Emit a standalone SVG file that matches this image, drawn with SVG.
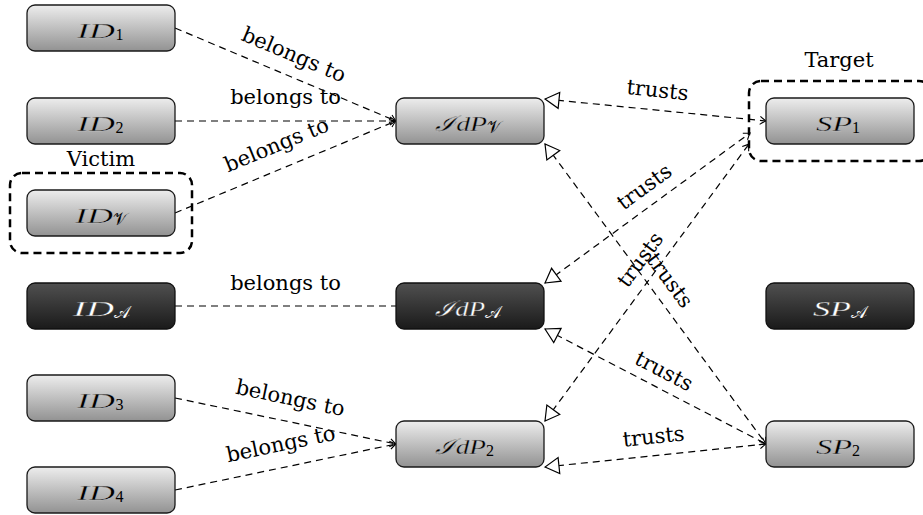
<svg xmlns="http://www.w3.org/2000/svg" width="923" height="515" viewBox="0 0 923 515">
<defs>
<linearGradient id="gl" x1="0" y1="0" x2="0" y2="1">
<stop offset="0" stop-color="#ededed"/><stop offset="1" stop-color="#929292"/>
</linearGradient>
<linearGradient id="gd" x1="0" y1="0" x2="0" y2="1">
<stop offset="0" stop-color="#505050"/><stop offset="1" stop-color="#1a1a1a"/>
</linearGradient>
<marker id="to" markerUnits="userSpaceOnUse" orient="auto" overflow="visible" markerWidth="1" markerHeight="1" refX="0" refY="0">
<path d="M-6,-4 Q-2,-1 0,0 Q-2,1 -6,4" fill="none" stroke="#000" stroke-width="1.1" stroke-dasharray="none"/>
</marker>
<marker id="tri" markerUnits="userSpaceOnUse" orient="auto-start-reverse" overflow="visible" markerWidth="1" markerHeight="1" refX="0" refY="0">
<path d="M0,0 L-14,-8 L-14,8 Z" fill="#fff" stroke="#000" stroke-width="1.2" stroke-dasharray="none"/>
</marker>
</defs>
<style>
.nl{fill:url(#gl);stroke:#1a1a1a;stroke-width:1.3}
.nd{fill:url(#gd);stroke:#111;stroke-width:1.3}
.nt{font-family:"Liberation Serif",serif;font-style:italic;font-size:21px}
.sb{font-family:"Liberation Serif",serif;font-size:16px}
.sc{font-family:"DejaVu Serif","DejaVu Sans",serif;font-size:17px}
.w{fill:#fff}
.k{fill:#000}
.nt.k{stroke:#c4c4c4;stroke-width:0.3}
.nt.w{stroke:#363636;stroke-width:0.3}
.lbl{font-family:"DejaVu Serif",serif;font-size:21px;text-anchor:middle;fill:#000}
.e{fill:none;stroke:#000;stroke-width:1.2;stroke-dasharray:7 5}
.grp{fill:none;stroke:#000;stroke-width:2.5;stroke-dasharray:8 5}
</style>

<rect class="grp" x="10" y="173" width="182" height="80" rx="12"/>
<rect class="grp" x="749" y="81" width="182" height="80" rx="12"/>
<text class="lbl" x="101" y="166">Victim</text>
<text class="lbl" x="839" y="67">Target</text>

<g id="connectors">
<path class="e" d="M175,28 L396,121" marker-end="url(#to)"/>
<path class="e" d="M175,121 L396,121" marker-end="url(#to)"/>
<path class="e" d="M175,213 L396,121" marker-end="url(#to)"/>
<path class="e" d="M175,306 L396,306"/>
<path class="e" d="M175,398 L396,444" marker-end="url(#to)"/>
<path class="e" d="M175,490 L396,444" marker-end="url(#to)"/>
<path class="e" d="M545,99 L766,121" marker-start="url(#tri)" marker-end="url(#to)"/>
<path class="e" d="M545,283 L750,133" marker-start="url(#tri)" marker-end="url(#to)"/>
<path class="e" d="M545,421 L749,144" marker-start="url(#tri)" marker-end="url(#to)"/>
<path class="e" d="M545,144 L766,444" marker-start="url(#tri)" marker-end="url(#to)"/>
<path class="e" d="M545,329 L766,444" marker-start="url(#tri)" marker-end="url(#to)"/>
<path class="e" d="M545,467 L766,444" marker-start="url(#tri)" marker-end="url(#to)"/>
<g class="lbl">
<text transform="translate(293.3,56.1) rotate(22.8)" y="5.5">belongs to</text>
<text transform="translate(285.5,98.5)" y="5.5">belongs to</text>
<text transform="translate(277.1,146.2) rotate(-22.4)" y="5.5">belongs to</text>
<text transform="translate(285.5,284)" y="5.5">belongs to</text>
<text transform="translate(290,399.5) rotate(11.8)" y="5.5">belongs to</text>
<text transform="translate(281,445.5) rotate(-11.8)" y="5.5">belongs to</text>
<text transform="translate(657.4,91.1) rotate(6)" y="6">trusts</text>
<text transform="translate(645,187.5) rotate(-36.2)" y="6">trusts</text>
<text transform="translate(641,260.3) rotate(-53.5)" y="6">trusts</text>
<text transform="translate(669,281) rotate(53.6)" y="6">trusts</text>
<text transform="translate(663.5,372) rotate(27.5)" y="6">trusts</text>
<text transform="translate(653.6,437.6) rotate(-5.9)" y="6">trusts</text>
</g>
</g>

<g id="ID1"><rect class="nl" x="27" y="5" width="148" height="46" rx="8"/>
<text class="nt k" x="77" y="37.5" textLength="38" lengthAdjust="spacingAndGlyphs">ID</text><text class="sb k" x="115.5" y="39.5">1</text></g>
<g id="ID2"><rect class="nl" x="27" y="98" width="148" height="46" rx="8"/>
<text class="nt k" x="77" y="130.5" textLength="38" lengthAdjust="spacingAndGlyphs">ID</text><text class="sb k" x="115.5" y="132.5">2</text></g>
<g id="IDV"><rect class="nl" x="27" y="190" width="148" height="46" rx="8"/>
<text class="nt k" x="75" y="222.5" textLength="38" lengthAdjust="spacingAndGlyphs">ID</text><text class="sc k" x="113" y="225">𝒱</text></g>
<g id="IDA"><rect class="nd" x="27" y="283" width="148" height="46" rx="8"/>
<text class="nt w" x="73" y="315.5" textLength="41" lengthAdjust="spacingAndGlyphs">ID</text><text class="sc w" x="114" y="318">𝒜</text></g>
<g id="ID3"><rect class="nl" x="27" y="375" width="148" height="46" rx="8"/>
<text class="nt k" x="77" y="407.5" textLength="38" lengthAdjust="spacingAndGlyphs">ID</text><text class="sb k" x="115.5" y="409.5">3</text></g>
<g id="ID4"><rect class="nl" x="27" y="467" width="148" height="46" rx="8"/>
<text class="nt k" x="77" y="499.5" textLength="38" lengthAdjust="spacingAndGlyphs">ID</text><text class="sb k" x="115.5" y="501.5">4</text></g>

<g id="IdPV"><rect class="nl" x="396" y="98" width="148" height="46" rx="8"/>
<text class="nt k" x="435" y="130.5" textLength="52" lengthAdjust="spacingAndGlyphs">ℐdP</text><text class="sc k" x="487" y="133">𝒱</text></g>
<g id="IdPA"><rect class="nd" x="396" y="283" width="148" height="46" rx="8"/>
<text class="nt w" x="435" y="315.5" textLength="50" lengthAdjust="spacingAndGlyphs">ℐdP</text><text class="sc w" x="485" y="318">𝒜</text></g>
<g id="IdP2"><rect class="nl" x="396" y="421" width="148" height="46" rx="8"/>
<text class="nt k" x="435" y="453.5" textLength="51" lengthAdjust="spacingAndGlyphs">ℐdP</text><text class="sb k" x="486" y="455.5">2</text></g>

<g id="SP1"><rect class="nl" x="766" y="98" width="148" height="46" rx="8"/>
<text class="nt k" x="816" y="130.5" textLength="36" lengthAdjust="spacingAndGlyphs">SP</text><text class="sb k" x="852" y="132.5">1</text></g>
<g id="SPA"><rect class="nd" x="766" y="283" width="148" height="46" rx="8"/>
<text class="nt w" x="813" y="315.5" textLength="38" lengthAdjust="spacingAndGlyphs">SP</text><text class="sc w" x="851" y="318">𝒜</text></g>
<g id="SP2"><rect class="nl" x="766" y="421" width="148" height="46" rx="8"/>
<text class="nt k" x="816" y="453.5" textLength="36" lengthAdjust="spacingAndGlyphs">SP</text><text class="sb k" x="852" y="455.5">2</text></g>
</svg>
